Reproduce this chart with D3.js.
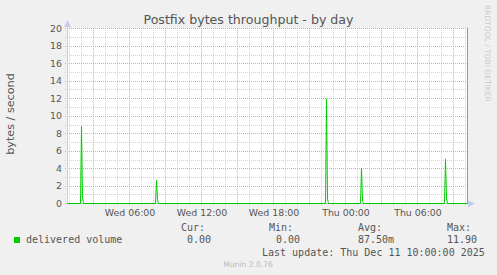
<!DOCTYPE html>
<html>
<head>
<meta charset="utf-8">
<script src="https://cdn.jsdelivr.net/npm/d3@7"></script>
<style>
  body { margin: 0; background: #f0f0f0; }
  svg text { font-family: "DejaVu Sans", sans-serif; }
  .mono { font-family: "DejaVu Sans Mono", monospace; font-size: 10px; fill: #555; }
</style>
</head>
<body>
<svg id="chart" width="497" height="275"></svg>
<script>

  // samples (5 min step), only the points around each spike; rest is 0
  var sampleTimes = [
    '2025-12-10T00:50', '2025-12-10T01:55', '2025-12-10T02:00', '2025-12-10T02:05', '2025-12-10T02:10',
    '2025-12-10T08:10', '2025-12-10T08:15', '2025-12-10T08:20', '2025-12-10T08:25',
    '2025-12-10T22:20', '2025-12-10T22:25', '2025-12-10T22:30', '2025-12-10T22:35',
    '2025-12-11T01:15', '2025-12-11T01:20', '2025-12-11T01:25', '2025-12-11T01:30',
    '2025-12-11T08:15', '2025-12-11T08:20', '2025-12-11T08:25', '2025-12-11T08:30',
    '2025-12-11T10:10'
  ];
  var sampleValues = [
    0, 0, 8.8, 0.7, 0,
    0, 2.65, 0.4, 0,
    0, 11.9, 0.5, 0,
    0, 4.0, 0.3, 0,
    0, 5.03, 0.6, 0,
    0
  ];

  var yTicks = [0, 2, 4, 6, 8, 10, 12, 14, 16, 18, 20];
  var xLabelTimes = ['2025-12-10T06:00', '2025-12-10T12:00', '2025-12-10T18:00', '2025-12-11T00:00', '2025-12-11T06:00'];
  var xLabels = ['Wed 06:00', 'Wed 12:00', 'Wed 18:00', 'Thu 00:00', 'Thu 06:00'];

  var legendHeads = ['Cur:', 'Min:', 'Avg:', 'Max:'];
  var legendValues = ['0.00', '0.00', '87.50m', '11.90'];

  var parse = d3.utcParse('%Y-%m-%dT%H:%M');
  var data = sampleTimes.map(function(t, i) { return {t: parse(t), v: sampleValues[i]}; });

  var svg = d3.select('#chart');
  // note: "top" is taken by window.top, so use other names
  var plotL = 67, plotR = 467, plotT = 28.25, plotB = 203.25;

  var x = d3.scaleUtc()
      .domain([parse('2025-12-10T00:50'), parse('2025-12-11T10:10')])
      .range([plotL, plotR]);
  var y = d3.scaleLinear().domain([0, 20]).range([plotB, plotT]);

  // canvas
  svg.append('rect').attr('x', plotL).attr('y', plotT).attr('width', plotR - plotL).attr('height', plotB - plotT).attr('fill', '#fff');

  function px(v) { return Math.round(v) + 0.5; }

  // minor grid
  var g = svg.append('g');
  var minorY = d3.range(1, 20, 2);
  g.selectAll('.my').data(minorY).enter().append('line')
      .attr('x1', plotL - 2).attr('x2', plotR)
      .attr('y1', function(d) { return px(y(d)); })
      .attr('y2', function(d) { return px(y(d)); })
      .attr('stroke', '#d2d2d2').attr('stroke-dasharray', '1,1');
  var hours = d3.utcHour.range(x.domain()[0], x.domain()[1]);
  g.selectAll('.mx').data(hours.filter(function(d) { return d.getUTCHours() % 3 !== 0; })).enter().append('line')
      .attr('x1', function(d) { return px(x(d)); })
      .attr('x2', function(d) { return px(x(d)); })
      .attr('y1', plotT).attr('y2', plotB + 2)
      .attr('stroke', '#d2d2d2').attr('stroke-dasharray', '1,1');

  // major grid
  g.selectAll('.My').data(yTicks.slice(1)).enter().append('line')
      .attr('x1', plotL - 2).attr('x2', plotR)
      .attr('y1', function(d) { return px(y(d)); })
      .attr('y2', function(d) { return px(y(d)); })
      .attr('stroke', '#e6a0a0').attr('stroke-dasharray', '1,1');
  g.selectAll('.Mx').data(hours.filter(function(d) { return d.getUTCHours() % 3 === 0; })).enter().append('line')
      .attr('x1', function(d) { return px(x(d)); })
      .attr('x2', function(d) { return px(x(d)); })
      .attr('y1', plotT).attr('y2', plotB + 3)
      .attr('stroke', '#e6a0a0').attr('stroke-dasharray', '1,1');

  // axes
  var axisColor = '#c4ccf4';
  svg.append('line').attr('x1', plotL + 0.5).attr('x2', plotL + 0.5).attr('y1', 24).attr('y2', plotB + 1)
      .attr('stroke', axisColor);
  svg.append('path').attr('d', 'M' + (plotL - 3) + ',27 L' + (plotL + 0.5) + ',20 L' + (plotL + 4) + ',27 Z').attr('fill', axisColor);
  svg.append('line').attr('x1', plotL - 2).attr('x2', 470).attr('y1', px(plotB)).attr('y2', px(plotB))
      .attr('stroke', axisColor);
  svg.append('path').attr('d', 'M468,' + (plotB - 3) + ' L475,' + px(plotB) + ' L468,' + (plotB + 4) + ' Z').attr('fill', axisColor);

  // right frame
  svg.append('line').attr('x1', plotR + 0.5).attr('x2', plotR + 0.5).attr('y1', plotT - 0.5).attr('y2', plotB + 0.5)
      .attr('stroke', '#999');

  // data line
  var line = d3.line()
      .x(function(d) { return px(x(d.t)); })
      .y(function(d) { return d.v === 0 ? px(y(0)) : y(d.v); });
  svg.append('path').datum(data).attr('d', line)
      .attr('fill', 'none').attr('stroke', '#00cc00').attr('stroke-width', 1);

  // y tick labels
  svg.selectAll('.yl').data(yTicks).enter().append('text')
      .attr('x', 62).attr('y', function(d) { return y(d) + 3.5; })
      .attr('text-anchor', 'end').attr('font-size', '9.4px').attr('fill', '#555')
      .text(function(d) { return d; });

  // x labels
  svg.selectAll('.xl').data(xLabelTimes).enter().append('text')
      .attr('x', function(d) { return x(parse(d)) + 1; }).attr('y', 216)
      .attr('text-anchor', 'middle').attr('font-size', '9.4px').attr('fill', '#555')
      .text(function(d, i) { return xLabels[i]; });

  // title
  svg.append('text').attr('x', 248.5).attr('y', 24).attr('text-anchor', 'middle')
      .attr('font-size', '12.6px').attr('fill', '#555').text('Postfix bytes throughput - by day');

  // y axis title
  svg.append('text').attr('transform', 'translate(13.5,114) rotate(-90)').attr('text-anchor', 'middle')
      .attr('font-size', '11.2px').attr('fill', '#555').text('bytes / second');

  // rrdtool credit
  svg.append('text').attr('transform', 'translate(485,5) rotate(90)')
      .attr('font-size', '7.5px').attr('fill', '#ccc').text('RRDTOOL / TOBI OETIKER');

  // legend
  svg.append('rect').attr('x', 14).attr('y', 237).attr('width', 6).attr('height', 6).attr('fill', '#00cc00');
  svg.append('text').attr('class', 'mono').attr('x', 26).attr('y', 243).text('delivered volume');
  var headX = [181, 269, 358, 447], valX = [187, 276, 358, 447];
  svg.selectAll('.lh').data(legendHeads).enter().append('text').attr('class', 'mono')
      .attr('x', function(d, i) { return headX[i]; }).attr('y', 231).text(function(d) { return d; });
  svg.selectAll('.lv').data(legendValues).enter().append('text').attr('class', 'mono')
      .attr('x', function(d, i) { return valX[i]; }).attr('y', 243).text(function(d) { return d; });
  svg.append('text').attr('class', 'mono').attr('x', 262).attr('y', 255.5)
      .text('Last update: Thu Dec 11 10:00:00 2025');

  svg.append('text').attr('x', 248).attr('y', 267).attr('text-anchor', 'middle')
      .attr('font-size', '7.6px').attr('fill', '#bbb').text('Munin 2.0.76');

</script>
</body>
</html>
